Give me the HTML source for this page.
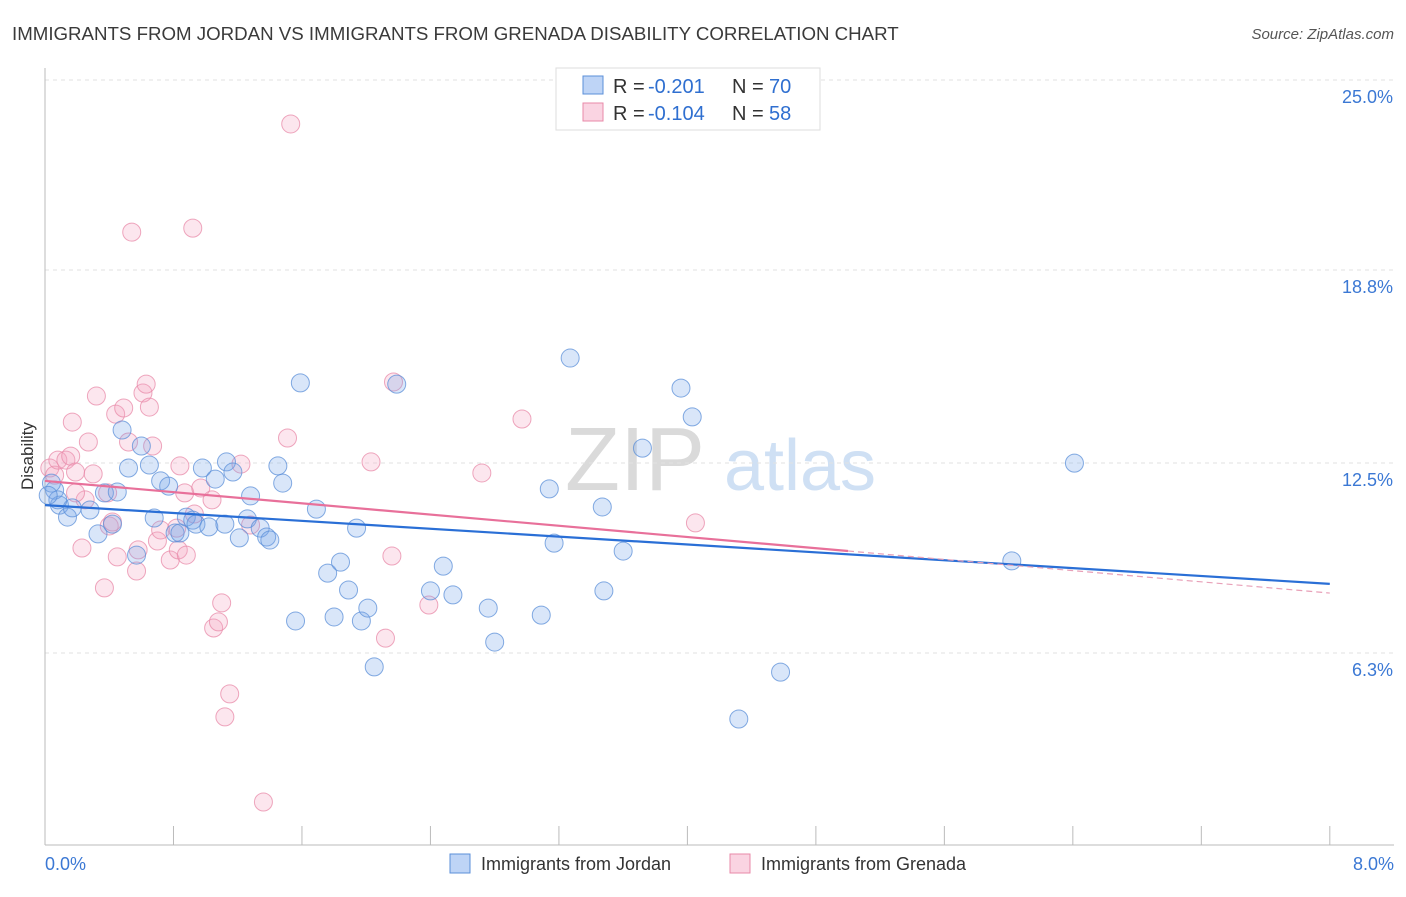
<!DOCTYPE html>
<html><head><meta charset="utf-8"><style>
body{margin:0;background:#fff;font-family:"Liberation Sans",sans-serif;}
svg text{font-family:"Liberation Sans",sans-serif;}
</style></head><body>
<svg id="chart" width="1406" height="892" xmlns="http://www.w3.org/2000/svg">
<text x="12" y="40" font-size="18.7" fill="#3a3a3a">IMMIGRANTS FROM JORDAN VS IMMIGRANTS FROM GRENADA DISABILITY CORRELATION CHART</text>
<text x="1394" y="39" font-size="15" fill="#555" font-style="italic" text-anchor="end">Source: ZipAtlas.com</text>
<g>
<text x="635" y="490" font-size="90" fill="#dadada" font-family="Liberation Serif" text-anchor="middle">ZIP</text>
<text x="800" y="490" font-size="72" fill="#cfe0f4" text-anchor="middle">atlas</text>
</g>
<g id="grid"></g>
<g id="axes"></g>
<g id="marks"></g>
<g id="trends"></g>
<text x="33" y="456" font-size="17" fill="#333" text-anchor="middle" transform="rotate(-90 33 456)">Disability</text>
<g>
<rect x="556" y="68" width="264" height="62" fill="#fff" stroke="#ddd"/>
<rect x="583" y="76" width="20" height="18" fill="rgba(110,160,235,0.45)" stroke="#5b8fd8"/>
<text x="613" y="93" font-size="20" fill="#333">R = </text>
<text x="648" y="93" font-size="20" fill="#2f6fd0">-0.201</text>
<text x="732" y="93" font-size="20" fill="#333">N = </text>
<text x="769" y="93" font-size="20" fill="#2f6fd0">70</text>
<rect x="583" y="103" width="20" height="18" fill="rgba(245,160,190,0.45)" stroke="#e88aa8"/>
<text x="613" y="120" font-size="20" fill="#333">R = </text>
<text x="648" y="120" font-size="20" fill="#2f6fd0">-0.104</text>
<text x="732" y="120" font-size="20" fill="#333">N = </text>
<text x="769" y="120" font-size="20" fill="#2f6fd0">58</text>
</g>
<g>
<rect x="450" y="854" width="20" height="19" fill="rgba(110,160,235,0.45)" stroke="#5b8fd8"/>
<text x="481" y="870" font-size="18" fill="#333">Immigrants from Jordan</text>
<rect x="730" y="854" width="20" height="19" fill="rgba(245,160,190,0.45)" stroke="#e88aa8"/>
<text x="761" y="870" font-size="18" fill="#333">Immigrants from Grenada</text>
</g>
</svg>
<script>
const yTicks=[25.0,18.8,12.5,6.3];
const yTickLabels=["25.0%","18.8%","12.5%","6.3%"];
const xTickLabels=["0.0%","8.0%"];
const jordanX=[.06,.09,.14,.17,.28,.33,.37,.42,.45,.48,.52,.57,.60,.65,.68,.72,.77,.81,.84,.88,.92,.94,.98,1.02,1.06,1.12,1.13,1.17,1.21,1.26,1.28,1.34,1.38,1.40,1.45,1.48,1.56,1.59,1.69,1.76,1.80,1.84,1.89,1.94,1.97,2.01,2.05,2.19,2.40,2.48,2.54,2.76,2.80,3.09,3.14,3.17,3.27,3.47,3.48,3.60,3.72,3.96,4.03,4.32,4.58,6.02,6.41,.04,.08,.02];
const jordanY=[12.17,11.68,11.29,11.59,11.52,10.74,12.08,11.06,12.11,14.13,12.89,10.05,13.61,12.99,11.26,12.47,12.30,10.77,10.77,11.29,11.19,11.06,12.89,10.97,12.53,11.06,13.09,12.76,10.61,11.23,11.98,10.93,10.64,10.54,12.96,12.40,7.90,15.67,11.55,9.46,8.03,9.82,8.91,10.93,7.90,8.32,6.40,15.63,8.88,9.69,8.75,8.32,7.21,8.09,12.21,10.44,16.48,11.62,8.88,10.18,13.54,15.50,14.56,4.70,6.23,9.86,13.05,12.40,11.85,12.0];
const grenadaX=[.03,.06,.08,.13,.16,.17,.19,.23,.25,.27,.30,.32,.37,.39,.40,.42,.44,.45,.49,.52,.54,.57,.58,.61,.63,.65,.67,.70,.72,.78,.82,.83,.84,.88,.87,.92,.93,.97,1.04,1.05,1.08,1.10,1.12,1.15,1.22,1.28,1.36,1.51,1.53,2.03,2.12,2.16,2.17,2.39,2.72,2.97,4.05,.19];
const grenadaY=[12.89,12.66,13.15,13.15,13.28,14.39,12.76,10.28,11.85,13.74,12.70,15.24,8.98,12.08,11.00,11.13,14.65,9.99,14.85,13.74,20.59,9.53,10.22,15.34,15.63,14.88,13.61,10.51,10.87,9.89,10.93,10.22,12.96,10.05,12.08,20.72,11.39,12.24,11.85,7.67,7.87,8.49,4.77,5.52,13.02,11.03,1.99,13.87,24.12,13.09,7.34,10.02,15.70,8.42,12.73,14.49,11.10,12.08];
const jordanTrend=[11.68,9.11];
const grenadaTrend=[12.47,8.81];
const grenadaSolidEnd=5.0;

const NS="http://www.w3.org/2000/svg";
const xs=v=>45+v*160.6;
const ys=v=>97+(25-v)*30.64;
function mk(tag,attrs,parent){const e=document.createElementNS(NS,tag);for(const k in attrs)e.setAttribute(k,attrs[k]);parent.appendChild(e);return e;}
const grid=document.getElementById('grid'),axes=document.getElementById('axes'),marks=document.getElementById('marks'),trends=document.getElementById('trends');
yTicks.forEach((t,i)=>{
 const l=mk('line',{x1:45,x2:1394,y1:ys(t)-17,y2:ys(t)-17,stroke:'#e2e2e2','stroke-dasharray':'4,4'},grid);
 
 
 const tx=mk('text',{x:1393,y:ys(t)+6,'font-size':18,fill:'#3b78d4','text-anchor':'end'},axes);
 tx.textContent=yTickLabels[i];
 
 
});
const ax=mk('line',{x1:45,x2:45,y1:68,y2:845,stroke:'#bbb'},axes);


const bx=mk('line',{x1:45,x2:1394,y1:845,y2:845,stroke:'#bbb'},axes);


for(let i=1;i<=10;i++){
 const t=mk('line',{x1:xs(i*0.8),x2:xs(i*0.8),y1:826,y2:845,stroke:'#bbb'},axes);
 
 
}
[[0,'start',45],[8,'end',1394]].forEach((d,i)=>{
 const t=mk('text',{x:d[2],y:870,'font-size':18,fill:'#3b78d4','text-anchor':d[1]},axes);
 t.textContent=xTickLabels[i];
 
 
});
function pts(X,Y,fill,stroke,name){
 X.forEach((x,i)=>{
  const c=mk('circle',{cx:xs(x),cy:ys(Y[i]),r:9,fill:fill,stroke:stroke,'stroke-width':1,'stroke-opacity':0.75},marks);
  
  
 });
}
pts(grenadaX,grenadaY,'rgba(245,165,195,0.28)','#e88aa8','grenada-point');
pts(jordanX,jordanY,'rgba(120,165,235,0.28)','#5b8fd8','jordan-point');
const lerp=(a,x)=>a[0]+(a[1]-a[0])*x/8;
const bl=mk('line',{x1:xs(0),y1:ys(jordanTrend[0]),x2:xs(8),y2:ys(jordanTrend[1]),stroke:'#2a6fd6','stroke-width':2.2},trends);


const pl=mk('line',{x1:xs(0),y1:ys(grenadaTrend[0]),x2:xs(grenadaSolidEnd),y2:ys(lerp(grenadaTrend,grenadaSolidEnd)),stroke:'#e8709a','stroke-width':2.2},trends);


const pd=mk('line',{x1:xs(grenadaSolidEnd),y1:ys(lerp(grenadaTrend,grenadaSolidEnd)),x2:xs(8),y2:ys(grenadaTrend[1]),stroke:'#e8a0b8','stroke-width':1.2,'stroke-dasharray':'6,4'},trends);


</script>
</body></html>
